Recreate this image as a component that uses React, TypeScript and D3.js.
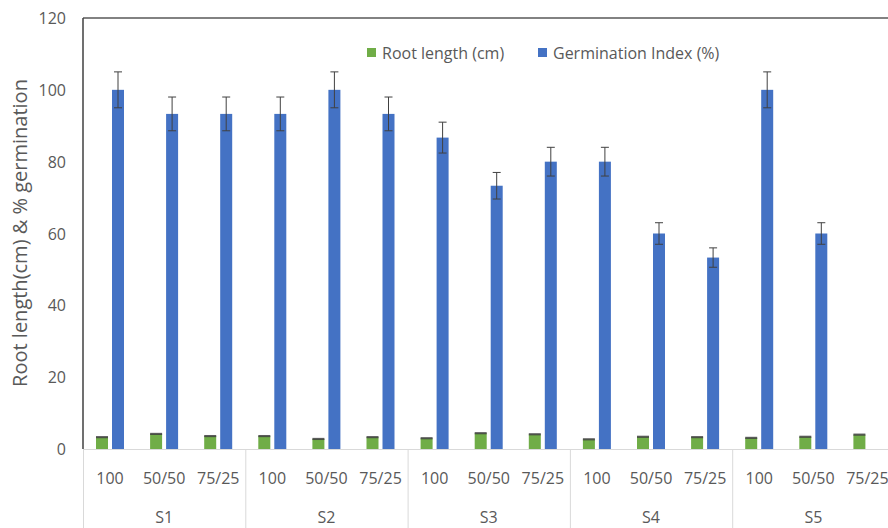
import React from "react";
import * as d3 from "d3";

const groups = ["S1", "S2", "S3", "S4", "S5"];
const treatments = ["100", "50/50", "75/25"];
const rootLength = [3.3, 4.2, 3.6, 3.6, 2.8, 3.3, 3.0, 4.4, 4.1, 2.7, 3.4, 3.3, 3.1, 3.4, 4.0];
const rootErr = [0.3, 0.3, 0.3, 0.3, 0.3, 0.3, 0.3, 0.3, 0.3, 0.3, 0.3, 0.3, 0.3, 0.3, 0.3];
const germIndex = [100, 93.3, 93.3, 93.3, 100, 93.3, 86.7, 73.3, 80, 80, 60, 53.3, 100, 60, 0];
const germErr = [5, 4.7, 4.7, 4.7, 5, 4.7, 4.3, 3.7, 4, 4, 3, 2.7, 5, 3, 0];
const yTicks = [0, 20, 40, 60, 80, 100, 120];
const seriesKeys = ["root", "germ"];
const seriesNames = ["Root length (cm)", "Germination Index (%)"];
const colors = ["#70AD47", "#4472C4"];

const W = 888;
const H = 528;
const left = 83;
const top = 18;
const bottom = 449;
const catW = 54.1;

export default function App() {
  const cats = groups.flatMap((g) => treatments.map((t) => `${g}|${t}`));
  const x0 = d3.scaleBand<string>().domain(cats).range([left, left + cats.length * catW]).paddingInner(0).paddingOuter(0);
  const x1 = d3.scaleBand<string>().domain(seriesKeys).range([13, 41]).paddingInner(0.25).paddingOuter(0);
  const y = d3.scaleLinear().domain([0, 120]).range([bottom, top]);
  const font = "'Open Sans', sans-serif";
  const groupW = x0.bandwidth() * treatments.length;
  const vals = [rootLength, germIndex];
  const errs = [rootErr, germErr];

  return (
    <svg width={W} height={H} style={{ display: "block", position: "absolute", left: 0, top: 0 }} fontFamily={font}>
      <rect x={0} y={0} width={W} height={H} fill="#fff" />
      {/* y tick labels */}
      {yTicks.map((t) => (
        <text key={t} x={66} y={y(t)} textAnchor="end" dominantBaseline="central" fontSize={16} fill="#595959">
          {t}
        </text>
      ))}
      <text
        transform={`translate(19,233) rotate(-90)`}
        textAnchor="middle"
        dominantBaseline="central"
        fontSize={20}
        fill="#595959"
      >
        Root length(cm) &amp; % germination
      </text>
      {/* bars */}
      {cats.map((c, i) =>
        seriesKeys.map((k, si) => {
          const v = vals[si][i];
          if (!v) return null;
          const bx = (x0(c) as number) + (x1(k) as number);
          return (
            <rect key={c + k} x={bx} y={y(v)} width={x1.bandwidth()} height={y(0) - y(v)} fill={colors[si]} />
          );
        })
      )}
      {/* error bars */}
      {cats.map((c, i) =>
        seriesKeys.map((k, si) => {
          const v = vals[si][i];
          const e = errs[si][i];
          if (!v) return null;
          const cx = (x0(c) as number) + (x1(k) as number) + x1.bandwidth() / 2;
          if (si === 0) {
            return (
              <rect key={"e" + c + k} x={cx - x1.bandwidth() / 2} y={y(v + e)} width={x1.bandwidth()} height={y(v - e) - y(v + e)} fill="#404040" opacity={0.85} />
            );
          }
          return (
            <g key={"e" + c + k} stroke="#404040" strokeWidth={1}>
              <line x1={cx} x2={cx} y1={y(v + e)} y2={y(v - e)} />
              <line x1={cx - 4} x2={cx + 4} y1={y(v + e)} y2={y(v + e)} />
              <line x1={cx - 4} x2={cx + 4} y1={y(v - e)} y2={y(v - e)} />
            </g>
          );
        })
      )}
      {/* axes */}
      <line x1={left} x2={W} y1={top} y2={top} stroke="#595959" strokeWidth={1.5} />
      <line x1={left} x2={W} y1={bottom + 0.5} y2={bottom + 0.5} stroke="#d9d9d9" strokeWidth={1} />
      <line x1={left} x2={left} y1={top} y2={bottom} stroke="#404040" strokeWidth={1.5} />
      {groups.map((g, gi) => (
        <line key={"sep" + g} x1={left + gi * groupW + 0.5} x2={left + gi * groupW + 0.5} y1={bottom} y2={H} stroke="#d9d9d9" strokeWidth={1} />
      ))}
      <line x1={left + 5 * groupW} x2={left + 5 * groupW} y1={bottom} y2={H} stroke="#d9d9d9" strokeWidth={1} />
      {cats.map((c) => (
        <text key={"t" + c} x={(x0(c) as number) + x0.bandwidth() / 2} y={478} textAnchor="middle" dominantBaseline="central" fontSize={16} fill="#595959">
          {c.split("|")[1]}
        </text>
      ))}
      {groups.map((g, gi) => (
        <text key={"g" + g} x={left + gi * groupW + groupW / 2} y={517} textAnchor="middle" dominantBaseline="central" fontSize={16} fill="#595959">
          {g}
        </text>
      ))}
      {/* legend */}
      {[367, 538].map((lx, i) => (
        <g key={"lg" + i}>
          <rect x={lx} y={48} width={9} height={9} fill={colors[i]} />
          <text x={lx + 15} y={53} dominantBaseline="central" fontSize={16} fill="#595959">
            {seriesNames[i]}
          </text>
        </g>
      ))}
    </svg>
  );
}
